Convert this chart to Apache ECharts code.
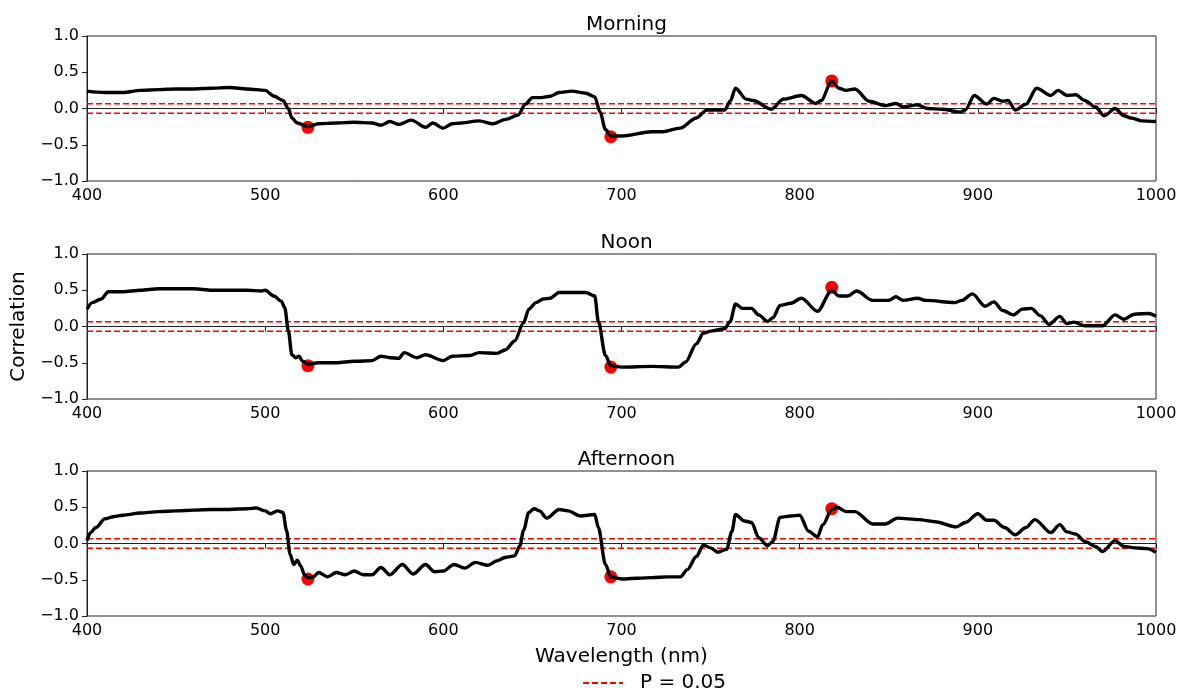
<!DOCTYPE html>
<html>
<head>
<meta charset="utf-8">
<script src="https://cdn.jsdelivr.net/npm/echarts@6/dist/echarts.min.js"></script>
<style>
html,body{margin:0;padding:0;background:#fff;}
#chart{width:1183px;height:688px;}
</style>
</head>
<body>
<div id="chart"></div>
<script>
// ---------- Data ----------
const panelTitles = ["Morning", "Noon", "Afternoon"];
const xTicks = [400, 500, 600, 700, 800, 900, 1000];
const yTicks = [-1.0, -0.5, 0.0, 0.5, 1.0];
const pThreshold = 0.065;
const legendLabel = "P = 0.05";

const morningWl = [400,410,420,430,440,450,460,470,480,490,500,505,510,513,515,518,524,530,540,550,560,565,570,575,582,590,594,600,605,610,620,628,635,642,646,650,655,660,665,672,680,685,688,691,694,700,717,723,733,742,748,758,761,764,770,774,784,791,801,809,812,818,822,826,831,839,848,854,858,866,872,880,890,893,898,905,909,914,917,921,927,933,941,945,950,955,960,966,971,977,982,986,992,1000];
const morningCorr = [0.24,0.22,0.22,0.25,0.26,0.27,0.27,0.28,0.29,0.27,0.25,0.17,0.11,0.0,-0.13,-0.2,-0.25,-0.21,-0.2,-0.19,-0.2,-0.23,-0.18,-0.22,-0.16,-0.26,-0.2,-0.27,-0.21,-0.2,-0.17,-0.21,-0.15,-0.09,0.06,0.15,0.15,0.17,0.22,0.24,0.21,0.16,-0.05,-0.29,-0.38,-0.38,-0.32,-0.32,-0.27,-0.13,-0.02,-0.02,0.1,0.28,0.13,0.11,-0.01,0.13,0.18,0.07,0.11,0.38,0.28,0.25,0.27,0.1,0.04,0.07,0.02,0.05,0.0,-0.01,-0.05,-0.02,0.18,0.06,0.14,0.1,0.11,-0.02,0.06,0.28,0.18,0.25,0.18,0.19,0.11,0.02,-0.1,0.0,-0.1,-0.13,-0.17,-0.18];

const noonWl = [400,403,408,412,420,430,440,450,460,470,480,490,498,500,505,509,511,513,515,517,519,521,524,530,540,550,560,565,570,575,578,585,590,600,605,615,620,630,635,640,645,648,652,656,660,665,680,685,687,691,694,700,717,732,736,742,746,751,758,761,764,768,773,777,782,785,789,795,801,810,818,822,827,832,841,850,854,858,866,871,887,891,897,904,909,914,920,925,930,935,940,946,950,954,960,970,977,982,988,996,1000];
const noonCorr = [0.24,0.33,0.38,0.48,0.48,0.5,0.52,0.52,0.52,0.5,0.5,0.5,0.49,0.5,0.42,0.35,0.26,-0.06,-0.39,-0.43,-0.41,-0.48,-0.52,-0.5,-0.5,-0.48,-0.47,-0.41,-0.43,-0.44,-0.36,-0.43,-0.39,-0.47,-0.41,-0.4,-0.36,-0.37,-0.32,-0.2,0.05,0.24,0.33,0.38,0.39,0.47,0.47,0.42,0.07,-0.4,-0.54,-0.56,-0.55,-0.56,-0.49,-0.24,-0.09,-0.06,-0.03,0.07,0.31,0.25,0.25,0.16,0.07,0.12,0.29,0.32,0.39,0.21,0.5,0.42,0.42,0.49,0.36,0.36,0.41,0.36,0.39,0.36,0.33,0.36,0.45,0.28,0.34,0.22,0.16,0.24,0.25,0.15,0.03,0.14,0.04,0.06,0.01,0.01,0.16,0.1,0.17,0.18,0.14];

const afternoonWl = [400,402,405,410,415,420,430,440,450,460,470,480,490,495,500,503,507,510,512,514,516,518,520,522,524,527,530,535,540,545,550,555,560,565,570,577,583,590,595,600,606,612,618,625,630,635,640,643,645,648,651,654,658,665,670,677,685,687,691,694,700,717,726,733,737,742,746,750,754,759,762,764,769,773,777,782,785,789,795,800,805,810,813,818,821,826,831,841,848,855,867,876,888,893,900,905,909,915,921,927,932,941,946,950,955,960,966,970,977,982,988,995,1000];
const afternoonCorr = [0.04,0.15,0.22,0.34,0.37,0.39,0.42,0.44,0.45,0.46,0.47,0.47,0.48,0.49,0.45,0.41,0.45,0.43,0.18,-0.15,-0.29,-0.23,-0.31,-0.43,-0.47,-0.46,-0.4,-0.46,-0.4,-0.43,-0.38,-0.43,-0.43,-0.33,-0.43,-0.29,-0.42,-0.29,-0.39,-0.38,-0.29,-0.34,-0.26,-0.3,-0.24,-0.19,-0.17,-0.03,0.18,0.43,0.48,0.45,0.35,0.47,0.45,0.38,0.4,0.22,-0.29,-0.46,-0.49,-0.47,-0.46,-0.46,-0.36,-0.18,-0.02,-0.06,-0.12,-0.08,0.17,0.4,0.31,0.29,0.08,-0.03,0.03,0.36,0.38,0.39,0.17,0.09,0.26,0.47,0.5,0.44,0.44,0.27,0.27,0.35,0.33,0.3,0.23,0.29,0.41,0.32,0.32,0.22,0.12,0.22,0.33,0.15,0.26,0.16,0.13,0.03,-0.04,-0.11,0.04,-0.04,-0.06,-0.07,-0.12];

const markerWl = [524, 694, 818];
const morningMarkers = [-0.26, -0.39, 0.38];
const noonMarkers = [-0.54, -0.56, 0.54];
const afternoonMarkers = [-0.49, -0.46, 0.48];

// ---------- Build ----------
const zip = (xs, ys) => xs.map((x, i) => [x, ys[i]]);
const curves = [zip(morningWl, morningCorr), zip(noonWl, noonCorr), zip(afternoonWl, afternoonCorr)];
const markers = [zip(markerWl, morningMarkers), zip(markerWl, noonMarkers), zip(markerWl, afternoonMarkers)];
const xMin = xTicks[0], xMax = xTicks[xTicks.length - 1];

const FONT = "DejaVu Sans";
const AXIS_COLOR = "#222";
const gridTops = [36, 254, 471];
const gridH = 145;
const fmtY = v => (v < 0 ? "\u2212" : "") + Math.abs(v).toFixed(1);
const fmtX = v => String(v);

const grids = [], xAxes = [], yAxes = [], titles = [], series = [];
gridTops.forEach((top, i) => {
  grids.push({left: 87, right: 27, top: top, height: gridH, show: true, borderColor: AXIS_COLOR, borderWidth: 1, containLabel: false});
  titles.push({text: panelTitles[i], left: 621.5, textAlign: "center", top: top - 26,
    textStyle: {fontFamily: FONT, fontSize: 20, fontWeight: "normal", color: "#000"}});
  xAxes.push({
    type: "value", gridIndex: i, min: xMin, max: xMax, interval: 100,
    axisLine: {show: true, lineStyle: {color: AXIS_COLOR, width: 1}},
    axisTick: {show: true, length: 5, lineStyle: {color: AXIS_COLOR}},
    axisLabel: {color: "#000", fontFamily: FONT, fontSize: 16, margin: 7, formatter: fmtX},
    splitLine: {show: false},
    name: i === 2 ? "Wavelength (nm)" : "", nameLocation: "middle", nameGap: 31,
    nameTextStyle: {fontFamily: FONT, fontSize: 20, color: "#000"}
  });
  yAxes.push({
    type: "value", gridIndex: i, min: yTicks[0], max: yTicks[yTicks.length - 1], interval: 0.5,
    axisLine: {show: true, lineStyle: {color: AXIS_COLOR, width: 1}},
    axisTick: {show: true, length: 5, lineStyle: {color: AXIS_COLOR}},
    axisLabel: {color: "#000", fontFamily: FONT, fontSize: 16, margin: 8, formatter: fmtY},
    splitLine: {show: false},
    name: i === 1 ? "Correlation" : "", nameLocation: "middle", nameGap: 58,
    nameTextStyle: {fontFamily: FONT, fontSize: 20, color: "#000"}
  });
  [pThreshold, -pThreshold].forEach(p => {
    series.push({
      name: legendLabel, type: "line", xAxisIndex: i, yAxisIndex: i,
      data: [[xMin, p], [xMax, p]], symbol: "none", silent: true, z: 2,
      lineStyle: {color: "#ff0000", width: 1.5, type: [6, 3]}, itemStyle: {color: "#ff0000"}
    });
  });
  series.push({
    name: panelTitles[i] + " markers", type: "scatter", xAxisIndex: i, yAxisIndex: i,
    data: markers[i], symbolSize: 13, itemStyle: {color: "#ff0000", opacity: 1}, z: 3
  });
  series.push({
    name: panelTitles[i], type: "line", xAxisIndex: i, yAxisIndex: i,
    data: curves[i], symbol: "none", smooth: 0.3, smoothMonotone: "x", z: 4,
    lineStyle: {color: "#000", width: 3.4}
  });
});

const chart = echarts.init(document.getElementById("chart"), null, {renderer: "canvas"});
chart.setOption({
  animation: false,
  backgroundColor: "#fff",
  title: titles,
  grid: grids,
  xAxis: xAxes,
  yAxis: yAxes,
  legend: {
    data: [legendLabel],
    left: 577, top: 668, itemWidth: 40, itemHeight: 2, itemGap: 10,
    itemStyle: {color: "transparent", borderColor: "transparent", borderWidth: 0},
    textStyle: {fontFamily: FONT, fontSize: 20, color: "#000", padding: [0, 0, 0, 12]}
  },
  series: series
});
</script>
</body>
</html>
